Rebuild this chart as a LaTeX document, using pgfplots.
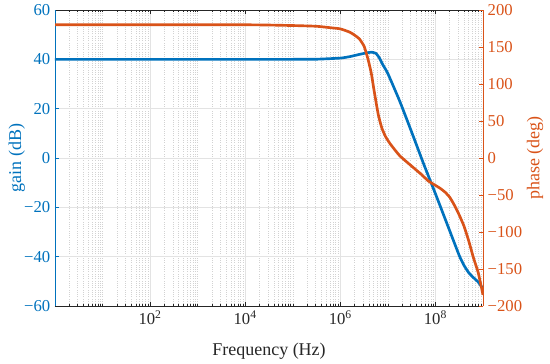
\documentclass[border=0pt]{standalone}
\usepackage{pgfplots}
\pgfplotsset{compat=1.18}
\usepackage{fontspec}
\setmainfont{Liberation Serif}
\definecolor{mblue}{RGB}{0,114,189}
\definecolor{morange}{RGB}{217,83,25}
\definecolor{mgray}{RGB}{38,38,38}
\begin{document}
\begin{tikzpicture}
\useasboundingbox (-41.25pt,-43.5pt) rectangle (371.25pt,229.5pt);
\begin{axis}[at={(0,0)}, anchor=south west, scale only axis,
  width=321pt, height=222pt,
  xmode=log, xmin=1, xmax=1e9, ymin=-60, ymax=60,
  axis x line*=box, axis y line*=left,
  x axis line style={mgray,-}, y axis line style={mblue,-},
  xtick={1e2,1e4,1e6,1e8},
  xticklabels={10\textsuperscript{2},10\textsuperscript{4},10\textsuperscript{6},10\textsuperscript{8}},
  minor xtick={2,3,4,5,6,7,8,9,1e1,2e1,3e1,4e1,5e1,6e1,7e1,8e1,9e1,2e2,3e2,4e2,5e2,6e2,7e2,8e2,9e2,1e3,2e3,3e3,4e3,5e3,6e3,7e3,8e3,9e3,2e4,3e4,4e4,5e4,6e4,7e4,8e4,9e4,1e5,2e5,3e5,4e5,5e5,6e5,7e5,8e5,9e5,2e6,3e6,4e6,5e6,6e6,7e6,8e6,9e6,1e7,2e7,3e7,4e7,5e7,6e7,7e7,8e7,9e7,2e8,3e8,4e8,5e8,6e8,7e8,8e8,9e8},
  ytick={-60,-40,-20,0,20,40,60},
  yticklabels={−60,−40,−20,0,20,40,60},
  xmajorgrids, xminorgrids, ymajorgrids,
  major grid style={gray!22, line width=0.4pt},
  minor grid style={gray!35, dash pattern=on 0.4pt off 1.3pt, line width=0.4pt},
  tick align=inside,
  major tick length=3pt, minor tick length=1.6pt,
  every tick/.style={mgray, line width=0.4pt},
  every major y tick/.append style={mblue},
  xticklabel style={text=mgray, font=\fontsize{12.5}{14}\selectfont},
  yticklabel style={text=mblue, font=\fontsize{12.5}{14}\selectfont},
  xlabel={Frequency (Hz)}, ylabel={gain (dB)},
  xlabel style={at={(axis description cs:0.5,-0.152)}, anchor=center, text=mgray, font=\fontsize{13.5}{15}\selectfont},
  ylabel style={at={(axis description cs:-0.089,0.5)}, anchor=center, rotate=0, text=mblue, font=\fontsize{13.5}{15}\selectfont},
]
\addplot[mblue, line width=2pt, smooth, tension=0.3] coordinates {
(1,40) (1e3,40) (1e5,40) (3.162e5,40.05) (1e6,40.5) (1.585e6,41.1) (2.512e6,42.0) (3.548e6,42.6) (4.571e6,42.9) (5.623e6,42.4) (6.607e6,40.6) (7.943e6,37.6) (1e7,34.2) (1.778e7,23) (3.162e7,10.5) (5.623e7,-2.3) (1e8,-14.5) (1.778e8,-27) (3.162e8,-39.5) (3.981e8,-43.5) (5.012e8,-46.5) (6.310e8,-48.5) (7.943e8,-50.3) (1e9,-53)
};
\end{axis}
\begin{axis}[at={(0,0)}, anchor=south west, scale only axis,
  width=321pt, height=222pt,
  xmode=log, xmin=1, xmax=1e9, ymin=-200, ymax=200,
  axis x line=none, axis y line*=right,
  y axis line style={morange,-},
  ytick={-200,-150,-100,-50,0,50,100,150,200},
  yticklabels={−200,−150,−100,−50,0,50,100,150,200},
  tick align=inside, major tick length=3pt,
  every tick/.style={morange, line width=0.4pt},
  yticklabel style={text=morange, font=\fontsize{12.5}{14}\selectfont},
  ylabel={phase (deg)},
  ylabel style={at={(axis description cs:1.1215,0.5)}, anchor=center, text=morange, font=\fontsize{13.5}{15}\selectfont},
]
\addplot[morange, line width=2pt, smooth, tension=0.3] coordinates {
(1,180) (1e4,180) (1e5,179) (3.162e5,178) (6.310e5,176) (1e6,174.5) (1.585e6,170) (1.995e6,166) (2.512e6,161) (3.162e6,151) (3.802e6,134) (4.467e6,115) (5.012e6,95) (5.623e6,76) (6.310e6,58) (7.413e6,41) (8.913e6,29) (1.122e7,19) (1.778e7,3) (3.162e7,-11) (5.012e7,-22) (7.079e7,-31) (1e8,-37) (1.259e8,-41) (1.585e8,-46) (1.995e8,-53) (2.512e8,-64) (3.162e8,-77) (3.981e8,-92) (5.012e8,-112) (6.310e8,-135) (7.943e8,-155) (1e9,-185)
};
\end{axis}
\end{tikzpicture}
\end{document}
